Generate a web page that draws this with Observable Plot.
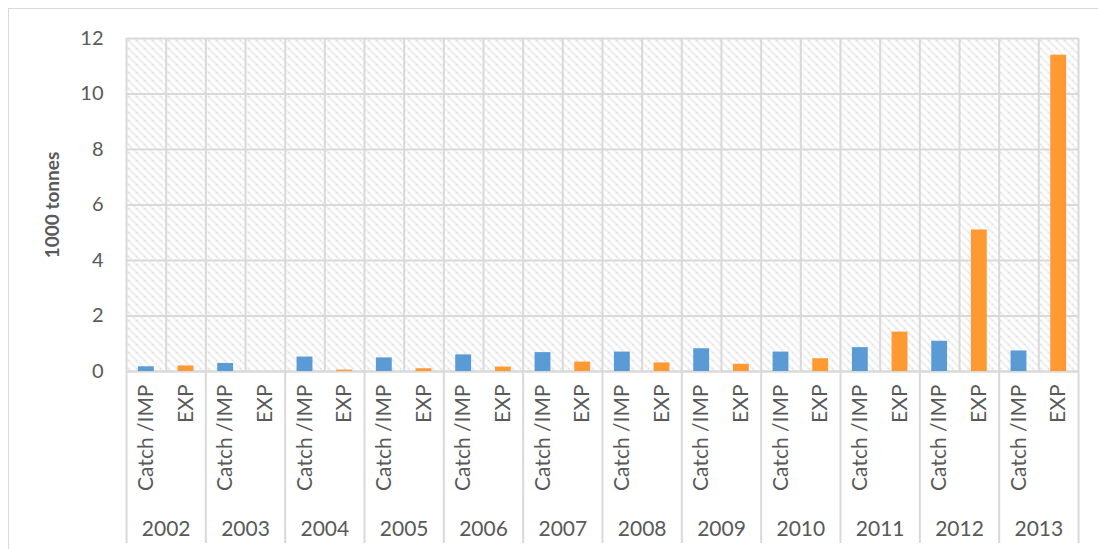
<!DOCTYPE html>
<html>
<head>
<meta charset="utf-8">
<script src="https://cdn.jsdelivr.net/npm/d3@7"></script>
<script src="https://cdn.jsdelivr.net/npm/@observablehq/plot@0.6"></script>
<style>
  html, body { margin: 0; padding: 0; background: #fff; }
  #wrap { position: relative; width: 1098px; height: 549px; overflow: hidden; }
  #border { position: absolute; left: 8px; top: 8px; width: 1200px; height: 600px; border: 1.5px solid #d9d9d9; box-sizing: border-box; pointer-events: none; }
  #chart { position: absolute; left: 0; top: 0; }
</style>
</head>
<body>
<div id="wrap"><div id="border"></div><div id="chart"></div></div>
<script>
const years = ["2002","2003","2004","2005","2006","2007","2008","2009","2010","2011","2012","2013"];
const types = ["Catch /IMP", "EXP"];
const catchImp = [0.17, 0.29, 0.52, 0.49, 0.60, 0.68, 0.70, 0.82, 0.70, 0.86, 1.09, 0.74];
const exp      = [0.20, 0.00, 0.05, 0.10, 0.16, 0.34, 0.31, 0.26, 0.46, 1.42, 5.10, 11.40];
const yTicks = [0, 2, 4, 6, 8, 10, 12];

const rows = [];
years.forEach((y, i) => {
  rows.push({year: y, type: types[0], idx: i * 2, value: catchImp[i]});
  rows.push({year: y, type: types[1], idx: i * 2 + 1, value: exp[i]});
});
const yearRows = years.map((y, i) => ({year: y, start: i * 2, mid: i * 2 + 1}));
const gridX = d3.range(0, rows.length + 1);
const sepX = d3.range(0, rows.length + 1, 2);

const font = "Lato, 'Open Sans', sans-serif";
const grey = "#595959";
const gridColor = "#d9d9d9";

const plot = Plot.plot({
  width: 1098,
  height: 549,
  marginLeft: 126,
  marginRight: 20,
  marginTop: 38,
  marginBottom: 178,
  style: {fontFamily: font, background: "transparent", overflow: "visible"},
  x: {type: "linear", domain: [0, rows.length], axis: null},
  y: {domain: [0, 12], ticks: yTicks},
  marks: [
    Plot.frame({fill: "url(#hatch)", stroke: null}),
    Plot.gridY(yTicks, {stroke: gridColor, strokeOpacity: 1, strokeWidth: 2}),
    Plot.ruleX(gridX, {stroke: gridColor, strokeWidth: 2}),
    Plot.ruleX(sepX, {y1: 0, y2: 0, stroke: gridColor, strokeWidth: 2, insetBottom: -172}),
    Plot.ruleY([0], {stroke: gridColor, strokeWidth: 2}),
    Plot.rectY(rows, {
      x1: d => d.idx + 0.3,
      x2: d => d.idx + 0.7,
      y: "value",
      fill: d => d.type === types[0] ? "#5b9bd5" : "#ff9a33"
    }),
    Plot.axisY(yTicks, {tickSize: 0, tickPadding: 23, fontSize: 20, fill: grey, label: null}),
    Plot.text(["1000 tonnes"], {frameAnchor: "left", textAnchor: "middle", dx: -74, rotate: -90, fontSize: 19, fontWeight: "bold", fill: grey}),
    Plot.text(rows, {
      x: d => d.idx + 0.5, y: 0, text: "type", rotate: -90, textAnchor: "end",
      dy: 13, fontSize: 21, fill: grey
    }),
    Plot.text(yearRows, {
      x: "mid", y: 0, text: "year", dy: 158, fontSize: 21, fill: grey
    })
  ]
});

const ns = "http://www.w3.org/2000/svg";
const defs = document.createElementNS(ns, "defs");
const pat = document.createElementNS(ns, "pattern");
pat.setAttribute("id", "hatch");
pat.setAttribute("patternUnits", "userSpaceOnUse");
pat.setAttribute("width", "8");
pat.setAttribute("height", "8");
const bg = document.createElementNS(ns, "rect");
bg.setAttribute("width", "8"); bg.setAttribute("height", "8"); bg.setAttribute("fill", "#ffffff");
pat.appendChild(bg);
[[-4, 4, 4, 12], [0, 0, 8, 8], [4, -4, 12, 4]].forEach(([x1, y1, x2, y2]) => {
  const l = document.createElementNS(ns, "line");
  l.setAttribute("x1", x1); l.setAttribute("y1", y1);
  l.setAttribute("x2", x2); l.setAttribute("y2", y2);
  l.setAttribute("stroke", "#dedede");
  l.setAttribute("stroke-width", "1.8");
  l.setAttribute("stroke-dasharray", "1.5 1");
  pat.appendChild(l);
});
defs.appendChild(pat);
plot.insertBefore(defs, plot.firstChild);
document.getElementById("chart").appendChild(plot);
</script>
</body>
</html>
